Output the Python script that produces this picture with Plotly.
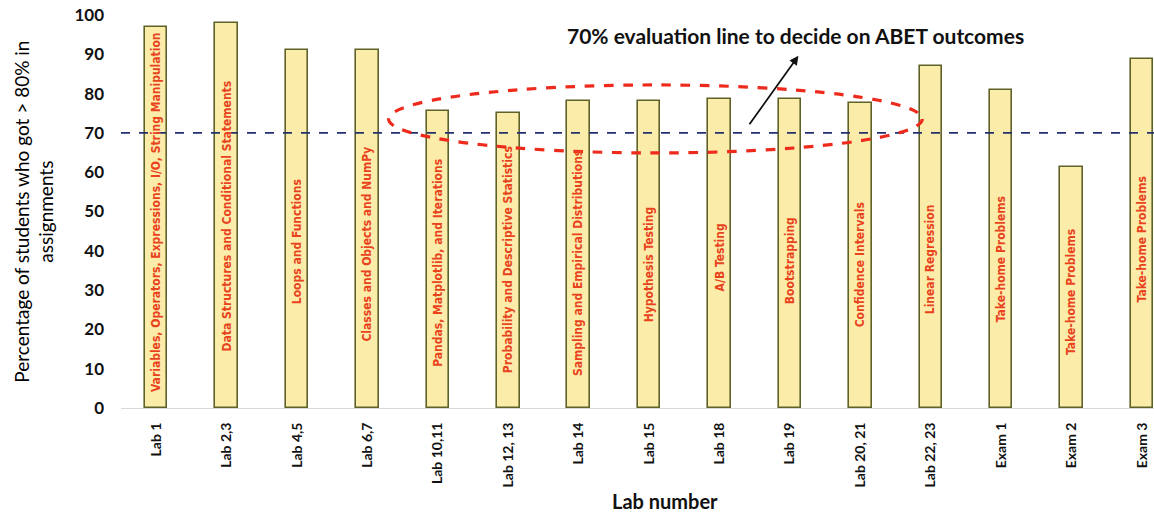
import plotly.graph_objects as go

# Lab / exam categories and the share of students scoring above 80%
labs = ["Lab 1", "Lab 2,3", "Lab 4,5", "Lab 6,7", "Lab 10,11", "Lab 12, 13", "Lab 14",
        "Lab 15", "Lab 18", "Lab 19", "Lab 20, 21", "Lab 22, 23", "Exam 1", "Exam 2", "Exam 3"]
percent = [97, 98, 91, 91, 75.6, 75, 78, 78, 78.6, 78.6, 77.6, 87, 81, 61.3, 88.8]

# Topic covered by each assignment, and the vertical centre of its label
topics = ["Variables, Operators, Expressions, I/O, String Manipulation",
          "Data Structures and Conditional Statements",
          "Loops and Functions",
          "Classes and Objects and NumPy",
          "Pandas, Matplotlib, and Iterations",
          "Probability and Descriptive Statistics",
          "Sampling and Empirical Distributions",
          "Hypothesis Testing",
          "A/B Testing",
          "Bootstrapping",
          "Confidence Intervals",
          "Linear Regression",
          "Take-home Problems",
          "Take-home Problems",
          "Take-home Problems"]
topic_y = [49.9, 48.9, 42.2, 41.7, 36.9, 37.7, 36.8, 36.6, 38.2, 37.6, 36.4, 37.8, 37.9, 29.4, 42.9]

threshold = 70
yticks = list(range(0, 101, 10))

BOLD = "Lato"
NARROW = "DejaVu Sans Condensed"

fig = go.Figure()
fig.add_trace(go.Bar(
    x=list(range(len(labs))), y=percent, width=0.32,
    marker=dict(color="#fcecaa", line=dict(color="#5e6128", width=1.6)),
    hoverinfo="skip",
))

# Topic labels written inside the bars
for i, (t, yc) in enumerate(zip(topics, topic_y)):
    fig.add_annotation(x=i, y=yc, xref="x", yref="y", text=f"<b>{t}</b>", textangle=-90,
                       showarrow=False,
                       font=dict(family=NARROW, size=12, color="#e8431c"))

# 70% evaluation threshold
fig.add_shape(type="line", xref="paper", yref="y", x0=0, x1=1, y0=threshold, y1=threshold,
              line=dict(color="#24306e", width=1.6, dash="dash"), layer="above")

# Highlight of the labs close to the threshold
fig.add_shape(type="circle", xref="x", yref="y", x0=3.3, x1=10.88, y0=64.9, y1=82.2,
              line=dict(color="#ee2a1c", width=3.2, dash="dash"), layer="above")

# Callout arrow and its text
fig.add_annotation(x=9.12, y=89.6, ax=8.41, ay=71.8, xref="x", yref="y",
                   axref="x", ayref="y", text="", showarrow=True,
                   arrowhead=2, arrowsize=1, arrowwidth=1.8, arrowcolor="#111111")
fig.add_annotation(x=9.08, y=94.9, xref="x", yref="y",
                   text="<b>70% evaluation line to decide on ABET outcomes</b>",
                   showarrow=False, font=dict(family=BOLD, size=21, color="#111111"))

# Axis titles
fig.add_annotation(x=-0.085, y=0.5, xref="paper", yref="paper", textangle=-90,
                   xanchor="center", yanchor="middle",
                   text="Percentage of students who got > 80% in<br>assignments",
                   showarrow=False, align="center",
                   font=dict(family=BOLD, size=19, color="#000000"))
fig.add_annotation(x=0.527, y=-0.272, xref="paper", yref="paper",
                   text="<b>Lab number</b>", showarrow=False,
                   font=dict(family=BOLD, size=20, color="#111111"))

fig.update_layout(
    width=1154, height=527,
    margin=dict(l=121, r=0, t=15, b=119),
    paper_bgcolor="white", plot_bgcolor="white",
    showlegend=False, bargap=0,
    font=dict(family=BOLD, color="#111111"),
)
fig.update_xaxes(range=[-0.5, 14.17], tickmode="array", tickvals=list(range(len(labs))),
                 ticktext=[f"<b>{l}</b>" for l in labs], tickangle=-90,
                 tickfont=dict(family=BOLD, size=14, color="#111111"),
                 showgrid=False, zeroline=False, showline=True, linecolor="#d9d9d9",
                 linewidth=1, ticks="", ticklabelstandoff=8)
fig.update_yaxes(range=[0, 100], tickmode="array", tickvals=yticks,
                 ticktext=[f"<b>{v}</b>" for v in yticks],
                 tickfont=dict(family=BOLD, size=17, color="#111111"),
                 showgrid=False, zeroline=False, showline=False, ticks="",
                 ticklabelstandoff=16)

fig.write_html("out.html")
